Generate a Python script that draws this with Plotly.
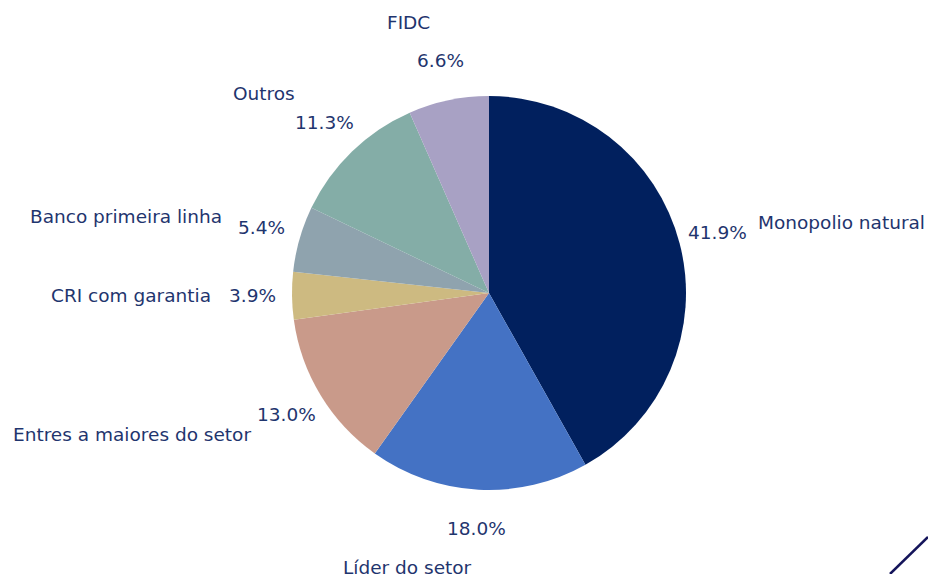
import math
import plotly.graph_objects as go

labels = ["Monopolio natural", "Líder do setor", "Entres a maiores do setor",
          "CRI com garantia", "Banco primeira linha", "Outros", "FIDC"]
values = [41.9, 18.0, 13.0, 3.9, 5.4, 11.3, 6.6]
colors = ["#01205E", "#4472C4", "#C99A8A", "#CDBA81", "#8FA3AE", "#84ADA7", "#A8A1C4"]

W, H = 928, 574
CX, CY, R = 489, 293, 197
PCT_DIST, LBL_DIST = 1.2, 1.4
TEXT_COLOR = "#1F356E"
FONT = "DejaVu Sans"
FS = 18.5

fig = go.Figure(go.Pie(
    labels=labels, values=values, sort=False, direction="clockwise", rotation=0,
    marker=dict(colors=colors, line=dict(width=0)),
    textinfo="none", hoverinfo="label+percent", showlegend=False,
    domain=dict(x=[(CX - R) / W, (CX + R) / W], y=[1 - (CY + R) / H, 1 - (CY - R) / H]),
))

total = sum(values)
cum = 0.0
annotations = []
for lab, v in zip(labels, values):
    mid = (cum + v / 2) / total * 2 * math.pi
    cum += v
    s, c = math.sin(mid), math.cos(mid)
    px, py = CX + PCT_DIST * R * s, CY - PCT_DIST * R * c
    annotations.append(dict(x=px / W, y=1 - (py - 1) / H, xref="paper", yref="paper",
                            text=f"{v / total * 100:.1f}%", showarrow=False,
                            xanchor="center", yanchor="middle",
                            font=dict(family=FONT, size=FS, color=TEXT_COLOR)))
    lx, ly = CX + LBL_DIST * R * s, CY - LBL_DIST * R * c
    annotations.append(dict(x=lx / W, y=1 - (ly - 1) / H, xref="paper", yref="paper",
                            text=lab, showarrow=False,
                            xanchor="left" if s > 0.001 else "right", yanchor="middle",
                            font=dict(family=FONT, size=FS, color=TEXT_COLOR)))

fig.update_layout(
    width=W, height=H, margin=dict(l=0, r=0, t=0, b=0),
    paper_bgcolor="white", plot_bgcolor="white",
    annotations=annotations,
    shapes=[dict(type="line", xref="paper", yref="paper",
                 x0=890 / W, y0=0, x1=1, y1=1 - 537 / H,
                 line=dict(color="#14145A", width=2.5))],
)

fig.write_html(
    "out.html",
    config={"displayModeBar": False},
    post_script="document.body.style.margin='0';document.body.style.overflow='hidden';",
)
